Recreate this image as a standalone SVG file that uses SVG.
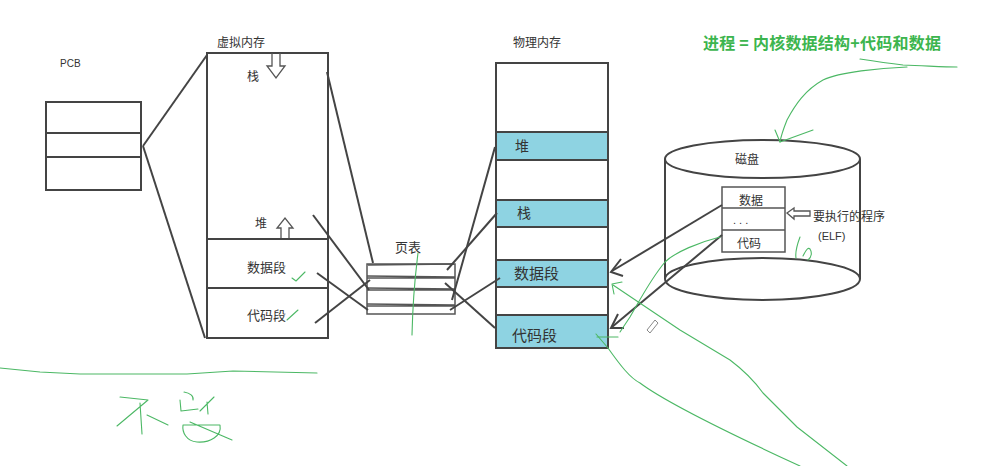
<svg xmlns="http://www.w3.org/2000/svg" width="991" height="466" viewBox="0 0 991 466">
<style>
.t{font-family:"Liberation Sans","Noto Sans CJK SC",sans-serif;fill:#333}
.box{fill:#fff;stroke:#444;stroke-width:2}
.ln{fill:none;stroke:#444;stroke-width:2}
.thin{fill:none;stroke:#555;stroke-width:1.3}
.band{fill:#8ed3e2;stroke:#444;stroke-width:2}
.g{fill:none;stroke:#4cb865;stroke-width:1.1;stroke-linecap:round;stroke-linejoin:round}
.gt{font-family:"Noto Sans CJK SC","Liberation Sans",sans-serif;font-weight:bold;fill:#3cb54e}
</style>
<rect width="991" height="466" fill="#fff"/>

<g id="pcb">
<text class="t" x="60" y="67" font-size="10">PCB</text>
<rect class="box" x="46" y="102" width="95" height="88"/>
<line class="ln" x1="46" y1="133" x2="141" y2="133"/>
<line class="ln" x1="46" y1="157" x2="141" y2="157"/>
</g>

<g id="virtual-memory">
<text class="t" x="217" y="47" font-size="12">虚拟内存</text>
<rect class="box" x="207" y="53" width="121" height="285"/>
<line class="ln" x1="207" y1="239" x2="328" y2="239"/>
<line class="ln" x1="207" y1="288" x2="328" y2="288"/>
<text class="t" x="247" y="81" font-size="12">栈</text>
<path class="thin" d="M272,53 L272,66 L267,66 L276,78 L285,66 L280,66 L280,53"/>
<text class="t" x="255" y="228" font-size="12">堆</text>
<path class="thin" d="M281,238 L281,228 L277,228 L285,218 L293,228 L289,228 L289,238"/>
<text class="t" x="247" y="272" font-size="13">数据段</text>
<text class="t" x="247" y="320" font-size="13">代码段</text>
<path class="g" d="M292,278 L296,281 L305,272"/>
<path class="g" d="M287,320 L298,310"/>
</g>

<g id="page-table">
<text class="t" x="395" y="252" font-size="13">页表</text>
<rect x="367" y="264" width="88" height="50" fill="#fff" stroke="#555" stroke-width="1.5"/>
<path class="thin" d="M367,276 L455,277 M367,278 L455,278 M367,288 L455,289 M367,290 L455,290 M367,304 L455,305 M367,306 L455,306 M368,265 L454,264"/>
</g>

<g id="physical-memory">
<text class="t" x="513" y="47" font-size="12">物理内存</text>
<rect class="box" x="496" y="63" width="112" height="285"/>
<rect class="band" x="496" y="132" width="112" height="28"/>
<rect class="band" x="496" y="200" width="112" height="27"/>
<rect class="band" x="496" y="260" width="112" height="27"/>
<rect class="band" x="496" y="315" width="112" height="33"/>
<text class="t" x="515" y="151" font-size="14">堆</text>
<text class="t" x="517" y="218" font-size="14">栈</text>
<text class="t" x="514" y="279" font-size="15">数据段</text>
<text class="t" x="512" y="341" font-size="15">代码段</text>
</g>

<g id="disk">
<ellipse cx="762.5" cy="159" rx="97.5" ry="19" fill="none" stroke="#444" stroke-width="2"/>
<line class="ln" x1="665" y1="159" x2="665" y2="279"/>
<line class="ln" x1="860" y1="159" x2="860" y2="279"/>
<ellipse cx="762.5" cy="279" rx="97.5" ry="21" fill="none" stroke="#444" stroke-width="2"/>
<text class="t" x="735" y="164" font-size="12">磁盘</text>
<rect x="722" y="187" width="63" height="65" fill="#fff" stroke="#555" stroke-width="1.5"/>
<line class="thin" x1="722" y1="208" x2="785" y2="208"/>
<line class="thin" x1="722" y1="230" x2="785" y2="230"/>
<text class="t" x="739" y="205" font-size="12">数据</text>
<text class="t" x="733" y="224" font-size="11">. . .</text>
<text class="t" x="737" y="248" font-size="12">代码</text>
<path class="thin" d="M787,213 L794,208 L794,211 L810,211 L810,216 L794,216 L794,219 Z"/>
<text class="t" x="813" y="221" font-size="12">要执行的程序</text>
<text class="t" x="818" y="240" font-size="11">(ELF)</text>
</g>

<g id="connectors">
<line class="ln" x1="143" y1="146" x2="207" y2="55"/>
<line class="ln" x1="143" y1="146" x2="205" y2="338"/>
<line class="ln" x1="327" y1="72" x2="373" y2="263"/>
<line class="ln" x1="313" y1="215" x2="369" y2="290"/>
<line class="ln" x1="317" y1="273" x2="368" y2="310"/>
<line class="ln" x1="315" y1="323" x2="370" y2="280"/>
<line class="ln" x1="447" y1="270" x2="497" y2="213"/>
<line class="ln" x1="452" y1="300" x2="495" y2="147"/>
<line class="ln" x1="450" y1="310" x2="500" y2="278"/>
<line class="ln" x1="445" y1="283" x2="495" y2="328"/>
<line class="ln" x1="722" y1="205" x2="612" y2="271"/>
<path class="ln" d="M621,259 L611,272 L623,276"/>
<line class="ln" x1="722" y1="235" x2="612" y2="327"/>
<path class="ln" d="M618,314 L611,328 L624,328"/>
</g>

<g id="annotations">
<text class="gt" x="703" y="49" font-size="16" textLength="238" lengthAdjust="spacing">进程 = 内核数据结构+代码和数据</text>
<path class="g" d="M860,59 C880,62 895,64 903,65 C930,66 945,67 957,67"/>
<path class="g" d="M907,67 C880,68 840,72 823,80 C805,90 795,105 787,120 C783,130 781,136 780,142"/>
<path class="g" d="M775,130 L780,142 L813,130"/>
<path class="g" d="M800,237 C797,245 795,252 796,258 M803,256 C806,250 808,247 810,249 C812,252 812,257 808,260"/>
<path class="g" d="M418,253 C416,270 413,290 412,335"/>
<path class="g" d="M720,237 C700,242 675,252 665,262 C650,280 640,300 630,317 L620,332"/>
<path class="g" d="M622,282 L612,284 L614,294"/>
<path class="g" d="M613,285 L680,330 L730,360 Q750,375 763,393 L797,427 L847,466"/>
<path class="g" d="M596,334 L608,348 C620,365 630,378 640,383 C660,398 700,420 800,466"/>
<path class="g" d="M597,337 L618,337"/>
<path d="M647,330 L655,320 L658,323 L650,333 Z" fill="none" stroke="#888" stroke-width="1"/>
<path class="g" d="M0,368 L40,372 L80,374 L187,374 L233,371 L317,373"/>
<path class="g" d="M120,397 L148,400 L117,426 M140,403 L142,434 M147,415 L168,425"/>
<path class="g" d="M184,392 C190,393 194,396 193,400 M180,400 L181,411 L198,409 M200,411 L214,397 M207,402 L208,414 M183,425 L220,425 C222,436 210,443 197,442 C186,441 182,432 183,425 M190,422 L232,440"/>
</g>
</svg>
